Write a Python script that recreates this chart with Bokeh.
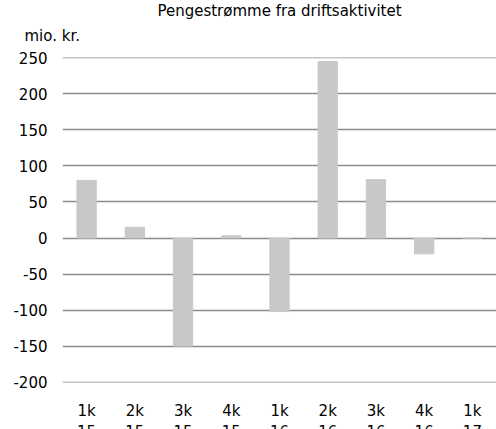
from bokeh.plotting import figure
from bokeh.models import Range1d, Title, FixedTicker
from bokeh.embed import file_html
from bokeh.resources import INLINE

categories = ["1k\n15", "2k\n15", "3k\n15", "4k\n15", "1k\n16", "2k\n16", "3k\n16", "4k\n16", "1k\n17"]
values = [80, 15, -150, 3, -102, 245, 81, -22, 0]
y_ticks = [-200, -150, -100, -50, 0, 50, 100, 150, 200, 250]
title_text = "Pengestrømme fra driftsaktivitet"
unit_text = "mio. kr."

FONT = "DejaVu Sans"

p = figure(x_range=categories, y_range=Range1d(-200.5, 250.5),
           width=496, height=444, title=None,
           output_backend="svg", toolbar_location=None,
           min_border_left=62, min_border_right=0, min_border_top=57, min_border_bottom=47)
p.outline_line_color = None

p.vbar(x=categories, top=values, width=0.4, color="#c8c8c8")

p.yaxis.ticker = FixedTicker(ticks=y_ticks)
p.yaxis.major_label_overrides = {t: str(t) for t in y_ticks}
p.ygrid.ticker = FixedTicker(ticks=y_ticks)
p.ygrid.grid_line_color = "#8c8c8c"
p.ygrid.grid_line_width = 1.5
p.xgrid.grid_line_color = None
for ax in (p.xaxis, p.yaxis):
    ax.axis_line_color = None
    ax.major_tick_line_color = None
    ax.minor_tick_line_color = None
    ax.major_label_text_font = FONT
    ax.major_label_text_font_size = "15px"
    ax.major_label_text_color = "#000000"
p.yaxis.major_label_standoff = 9
p.xaxis.major_label_standoff = 13

unit = Title(text=unit_text, text_font=FONT, text_font_size="15px",
             text_font_style="normal", text_color="#000000",
             align="left", offset=-38, standoff=26)
p.add_layout(unit, "above")

main = Title(text=title_text, text_font=FONT, text_font_size="15px",
             text_font_style="normal", text_color="#000000",
             align="center", offset=-33, standoff=-17)
p.add_layout(main, "above")

open("out.html", "w").write(file_html(p, INLINE))
